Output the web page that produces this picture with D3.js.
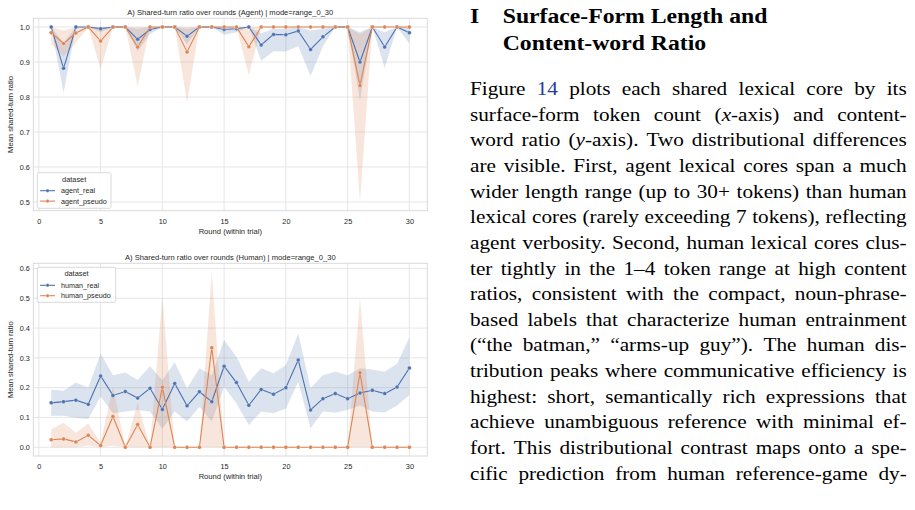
<!DOCTYPE html>
<html>
<head>
<meta charset="utf-8">
<script src="https://cdn.jsdelivr.net/npm/d3@7"></script>
<style>
  html, body { margin: 0; padding: 0; background: #fff; }
  svg { display: block; }
</style>
</head>
<body>
<svg id="fig" width="915" height="510"></svg>
<script>
// ---------------- DATA ----------------
const rounds = [1,2,3,4,5,6,7,8,9,10,11,12,13,14,15,16,17,18,19,20,21,22,23,24,25,26,27,28,29,30];
const xTicks = [0,5,10,15,20,25,30];
const agentYTicks = [0.5,0.6,0.7,0.8,0.9,1.0];
const humanYTicks = [0.0,0.1,0.2,0.3,0.4,0.5,0.6];

const agentReal   = [1.0,0.882,1.0,1.0,0.995,1.0,1.0,0.965,0.993,1.0,1.0,0.974,1.0,1.0,0.993,0.995,1.0,0.949,0.979,0.978,0.989,0.936,0.972,1.0,1.0,0.900,1.0,0.943,1.0,0.984];
const agentRealLo = [1.0,0.812,1.0,1.0,0.985,1.0,1.0,0.930,0.980,1.0,1.0,0.950,1.0,1.0,0.978,0.985,1.0,0.904,0.931,0.930,0.945,0.860,0.945,1.0,1.0,0.790,1.0,0.883,1.0,0.953];
const agentRealHi = [1.0,0.955,1.0,1.0,1.0,1.0,1.0,0.995,1.0,1.0,1.0,0.995,1.0,1.0,1.0,1.0,1.0,0.982,0.995,0.995,1.0,0.990,0.995,1.0,1.0,0.985,1.0,0.985,1.0,1.0];

const agentPseudo   = [0.984,0.953,0.983,1.0,0.960,1.0,1.0,0.943,1.0,1.0,1.0,0.929,1.0,1.0,1.0,1.0,0.944,1.0,1.0,1.0,1.0,1.0,1.0,1.0,1.0,0.833,1.0,1.0,1.0,1.0];
const agentPseudoLo = [0.952,0.915,0.955,1.0,0.879,1.0,1.0,0.831,1.0,1.0,1.0,0.784,1.0,1.0,1.0,1.0,0.862,1.0,1.0,1.0,1.0,1.0,1.0,1.0,1.0,0.500,1.0,1.0,1.0,1.0];
const agentPseudoHi = [1.0,0.990,1.0,1.0,1.0,1.0,1.0,1.0,1.0,1.0,1.0,1.0,1.0,1.0,1.0,1.0,1.0,1.0,1.0,1.0,1.0,1.0,1.0,1.0,1.0,0.980,1.0,1.0,1.0,1.0];

const humanReal   = [0.149,0.153,0.158,0.144,0.239,0.174,0.187,0.165,0.198,0.127,0.214,0.139,0.186,0.153,0.272,0.217,0.141,0.194,0.178,0.200,0.293,0.125,0.163,0.180,0.163,0.182,0.191,0.180,0.202,0.266];
const humanRealLo = [0.106,0.106,0.099,0.095,0.170,0.114,0.120,0.125,0.120,0.062,0.120,0.086,0.136,0.086,0.203,0.147,0.075,0.120,0.114,0.130,0.220,0.064,0.120,0.116,0.125,0.140,0.120,0.117,0.140,0.175];
const humanRealHi = [0.193,0.190,0.217,0.200,0.315,0.242,0.251,0.226,0.272,0.225,0.285,0.198,0.265,0.242,0.360,0.304,0.220,0.265,0.248,0.276,0.382,0.198,0.242,0.253,0.242,0.265,0.261,0.253,0.280,0.369];

const humanPseudo   = [0.025,0.028,0.018,0.040,0.006,0.103,0.0,0.076,0.0,0.201,0.0,0.0,0.0,0.334,0.0,0.0,0.0,0.0,0.0,0.0,0.0,0.0,0.0,0.0,0.0,0.250,0.0,0.0,0.0,0.0];
const humanPseudoLo = [0.0,0.0,0.0,0.006,0.0,0.005,0.0,0.0,0.0,0.0,0.0,0.0,0.0,0.0,0.0,0.0,0.0,0.0,0.0,0.0,0.0,0.0,0.0,0.0,0.0,0.0,0.0,0.0,0.0,0.0];
const humanPseudoHi = [0.060,0.082,0.049,0.080,0.015,0.203,0.0,0.150,0.0,0.505,0.0,0.0,0.0,0.589,0.0,0.0,0.0,0.0,0.0,0.0,0.0,0.0,0.0,0.0,0.0,0.500,0.0,0.0,0.0,0.0];

const agentTitle = "A) Shared-turn ratio over rounds (Agent) | mode=range_0_30";
const humanTitle = "A) Shared-turn ratio over rounds (Human) | mode=range_0_30";
const xLabel = "Round (within trial)";
const yLabel = "Mean shared-turn ratio";
const legendTitle = "dataset";

const headingNum = "I";
const headingLines = ["Surface-Form Length and", "Content-word Ratio"];
const bodyLines = [
  "Figure {b:14} plots each shared lexical core by its",
  "surface-form token count ({i:x}-axis) and content-",
  "word ratio ({i:y}-axis). Two distributional differences",
  "are visible. First, agent lexical cores span a much",
  "wider length range (up to 30+ tokens) than human",
  "lexical cores (rarely exceeding 7 tokens), reflecting",
  "agent verbosity. Second, human lexical cores clus-",
  "ter tightly in the 1–4 token range at high content",
  "ratios, consistent with the compact, noun-phrase-",
  "based labels that characterize human entrainment",
  "(“the batman,” “arms-up guy”). The human dis-",
  "tribution peaks where communicative efficiency is",
  "highest: short, semantically rich expressions that",
  "achieve unambiguous reference with minimal ef-",
  "fort. This distributional contrast maps onto a spe-",
  "cific prediction from human reference-game dy-"
];

// ---------------- DRAW ----------------
const BLUE = "#4c72b0", ORANGE = "#dd8452";
const GRID = "#e3e3e3", SPINE = "#d6d6d6", TXT = "#262626";
const FONT = "'Liberation Sans', Arial, sans-serif";
const svg = d3.select("#fig");

function drawChart(cfg) {
  const g = svg.append("g");
  const x = d3.scaleLinear().domain([-0.45, 31.45]).range([cfg.left, cfg.right]);
  const y = d3.scaleLinear().domain(cfg.yDomain).range([cfg.bottom, cfg.top]);

  g.append("g").selectAll("line").data(xTicks).join("line")
    .attr("x1", d => x(d)).attr("x2", d => x(d))
    .attr("y1", cfg.top).attr("y2", cfg.bottom)
    .attr("stroke", GRID).attr("stroke-width", 0.9);
  g.append("g").selectAll("line").data(cfg.yTicks).join("line")
    .attr("x1", cfg.left).attr("x2", cfg.right)
    .attr("y1", d => y(d)).attr("y2", d => y(d))
    .attr("stroke", GRID).attr("stroke-width", 0.9);
  g.append("rect").attr("x", cfg.left).attr("y", cfg.top)
    .attr("width", cfg.right - cfg.left).attr("height", cfg.bottom - cfg.top)
    .attr("fill", "none").attr("stroke", SPINE).attr("stroke-width", 0.9);

  const xAxis = d3.axisBottom(x).tickValues(xTicks).tickSize(0).tickPadding(8).tickFormat(d3.format("d"));
  const ax = g.append("g").attr("transform", `translate(0,${cfg.bottom})`).call(xAxis);
  ax.select(".domain").remove();
  ax.selectAll("text").attr("font-family", FONT).attr("font-size", 7.3).attr("fill", TXT);

  const yAxis = d3.axisLeft(y).tickValues(cfg.yTicks).tickSize(0).tickPadding(3.5).tickFormat(d3.format(".1f"));
  const ay = g.append("g").attr("transform", `translate(${cfg.left},0)`).call(yAxis);
  ay.select(".domain").remove();
  ay.selectAll("text").attr("font-family", FONT).attr("font-size", 7.3).attr("fill", TXT);

  const area = d3.area().x(d => x(d.r)).y0(d => y(d.lo)).y1(d => y(d.hi));
  cfg.series.forEach(s => {
    const data = rounds.map((r, i) => ({ r, lo: s.lo[i], hi: s.hi[i] }));
    g.append("path").datum(data).attr("d", area)
      .attr("fill", s.color).attr("fill-opacity", 0.2).attr("stroke", "none");
  });
  const line = d3.line().x(d => x(d.r)).y(d => y(d.v));
  cfg.series.forEach(s => {
    const data = rounds.map((r, i) => ({ r, v: s.v[i] }));
    g.append("path").datum(data).attr("d", line)
      .attr("fill", "none").attr("stroke", s.color).attr("stroke-width", 1.1);
    g.append("g").selectAll("circle").data(data).join("circle")
      .attr("cx", d => x(d.r)).attr("cy", d => y(d.v)).attr("r", 2.0)
      .attr("fill", s.color).attr("stroke", "#fff").attr("stroke-width", 0.35);
  });

  const cx = (cfg.left + cfg.right) / 2;
  g.append("text").attr("x", cx).attr("y", cfg.top - 3.6).attr("text-anchor", "middle")
    .attr("font-family", FONT).attr("font-size", 7.6).attr("fill", TXT).text(cfg.title);
  g.append("text").attr("x", cx).attr("y", cfg.bottom + 22.8).attr("text-anchor", "middle")
    .attr("font-family", FONT).attr("font-size", 7.6).attr("fill", TXT).text(xLabel);
  g.append("text").attr("transform", `translate(12.6,${(cfg.top + cfg.bottom) / 2}) rotate(-90)`)
    .attr("text-anchor", "middle").attr("font-family", FONT).attr("font-size", 7.6)
    .attr("fill", TXT).text(yLabel);

  const L = cfg.legend;
  const lg = g.append("g");
  lg.append("rect").attr("x", L.x).attr("y", L.y).attr("width", L.w).attr("height", L.h)
    .attr("rx", 1.8).attr("fill", "#fff").attr("fill-opacity", 0.85)
    .attr("stroke", "#d0d0d0").attr("stroke-width", 0.8);
  lg.append("text").attr("x", L.x + L.w / 2).attr("y", L.y + 8.8).attr("text-anchor", "middle")
    .attr("font-family", FONT).attr("font-size", 7.4).attr("fill", TXT).text(legendTitle);
  cfg.series.forEach((s, i) => {
    const yy = L.y + 18 + i * 10.4;
    lg.append("line").attr("x1", L.x + 2.8).attr("x2", L.x + 17.8).attr("y1", yy).attr("y2", yy)
      .attr("stroke", s.color).attr("stroke-width", 1.1);
    lg.append("circle").attr("cx", L.x + 10.3).attr("cy", yy).attr("r", 1.8)
      .attr("fill", s.color).attr("stroke", "#fff").attr("stroke-width", 0.35);
    lg.append("text").attr("x", L.x + 23.8).attr("y", yy + 2.5)
      .attr("font-family", FONT).attr("font-size", 7.2).attr("fill", TXT).text(s.name);
  });
}

drawChart({
  left: 33.3, right: 427.3, top: 18.3, bottom: 210.7,
  yDomain: [0.475, 1.025], yTicks: agentYTicks, title: agentTitle,
  legend: { x: 37.3, y: 172.7, w: 73.7, h: 35.6 },
  series: [
    { name: "agent_real", color: BLUE, v: agentReal, lo: agentRealLo, hi: agentRealHi },
    { name: "agent_pseudo", color: ORANGE, v: agentPseudo, lo: agentPseudoLo, hi: agentPseudoHi }
  ]
});
drawChart({
  left: 33.3, right: 427.3, top: 263.3, bottom: 456,
  yDomain: [-0.0294, 0.6174], yTicks: humanYTicks, title: humanTitle,
  legend: { x: 37.3, y: 267.3, w: 78.4, h: 35 },
  series: [
    { name: "human_real", color: BLUE, v: humanReal, lo: humanRealLo, hi: humanRealHi },
    { name: "human_pseudo", color: ORANGE, v: humanPseudo, lo: humanPseudoLo, hi: humanPseudoHi }
  ]
});

// ---------------- TEXT COLUMN ----------------
const SERIF = "'Liberation Serif', 'Times New Roman', serif";
const colLeft = 470, colRight = 906.7;

const HSX = 1.14;
const th = svg.append("g").attr("transform", `translate(${colLeft},0) scale(${HSX},1)`);
th.append("text").attr("x", 0).attr("y", 23.3).attr("font-family", SERIF)
  .attr("font-weight", "bold").attr("font-size", 20.8).attr("fill", "#000").text(headingNum);
headingLines.forEach((t, i) => {
  th.append("text").attr("x", (502.7 - colLeft) / HSX).attr("y", 23.3 + i * 26.7).attr("font-family", SERIF)
    .attr("font-weight", "bold").attr("font-size", 20.8).attr("fill", "#000").text(t);
});

const BSX = 1.10;
const localW = (colRight - colLeft) / BSX;
const tx = svg.append("g").attr("transform", `translate(${colLeft},0) scale(${BSX},1)`);
const bodySize = 19.3;
bodyLines.forEach((ln, li) => {
  const yb = 95 + li * 25.65;
  const words = ln.split(" ");
  const nodes = words.map(w => {
    const t = tx.append("text").attr("y", yb).attr("font-family", SERIF)
      .attr("font-size", bodySize).attr("fill", "#000");
    const parts = w.split(/(\{[bi]:[^}]*\})/).filter(p => p.length);
    parts.forEach(p => {
      const m = p.match(/^\{([bi]):([^}]*)\}$/);
      const sp = t.append("tspan");
      if (m) {
        sp.text(m[2]);
        if (m[1] === "b") sp.attr("fill", "#2a3a9c");
        if (m[1] === "i") sp.attr("font-style", "italic");
      } else sp.text(p);
    });
    return t;
  });
  const widths = nodes.map(n => n.node().getComputedTextLength());
  const total = d3.sum(widths);
  const gap = words.length > 1 ? (localW - total) / (words.length - 1) : 0;
  let cx = 0;
  nodes.forEach((n, i) => { n.attr("x", cx); cx += widths[i] + gap; });
});
</script>
</body>
</html>
